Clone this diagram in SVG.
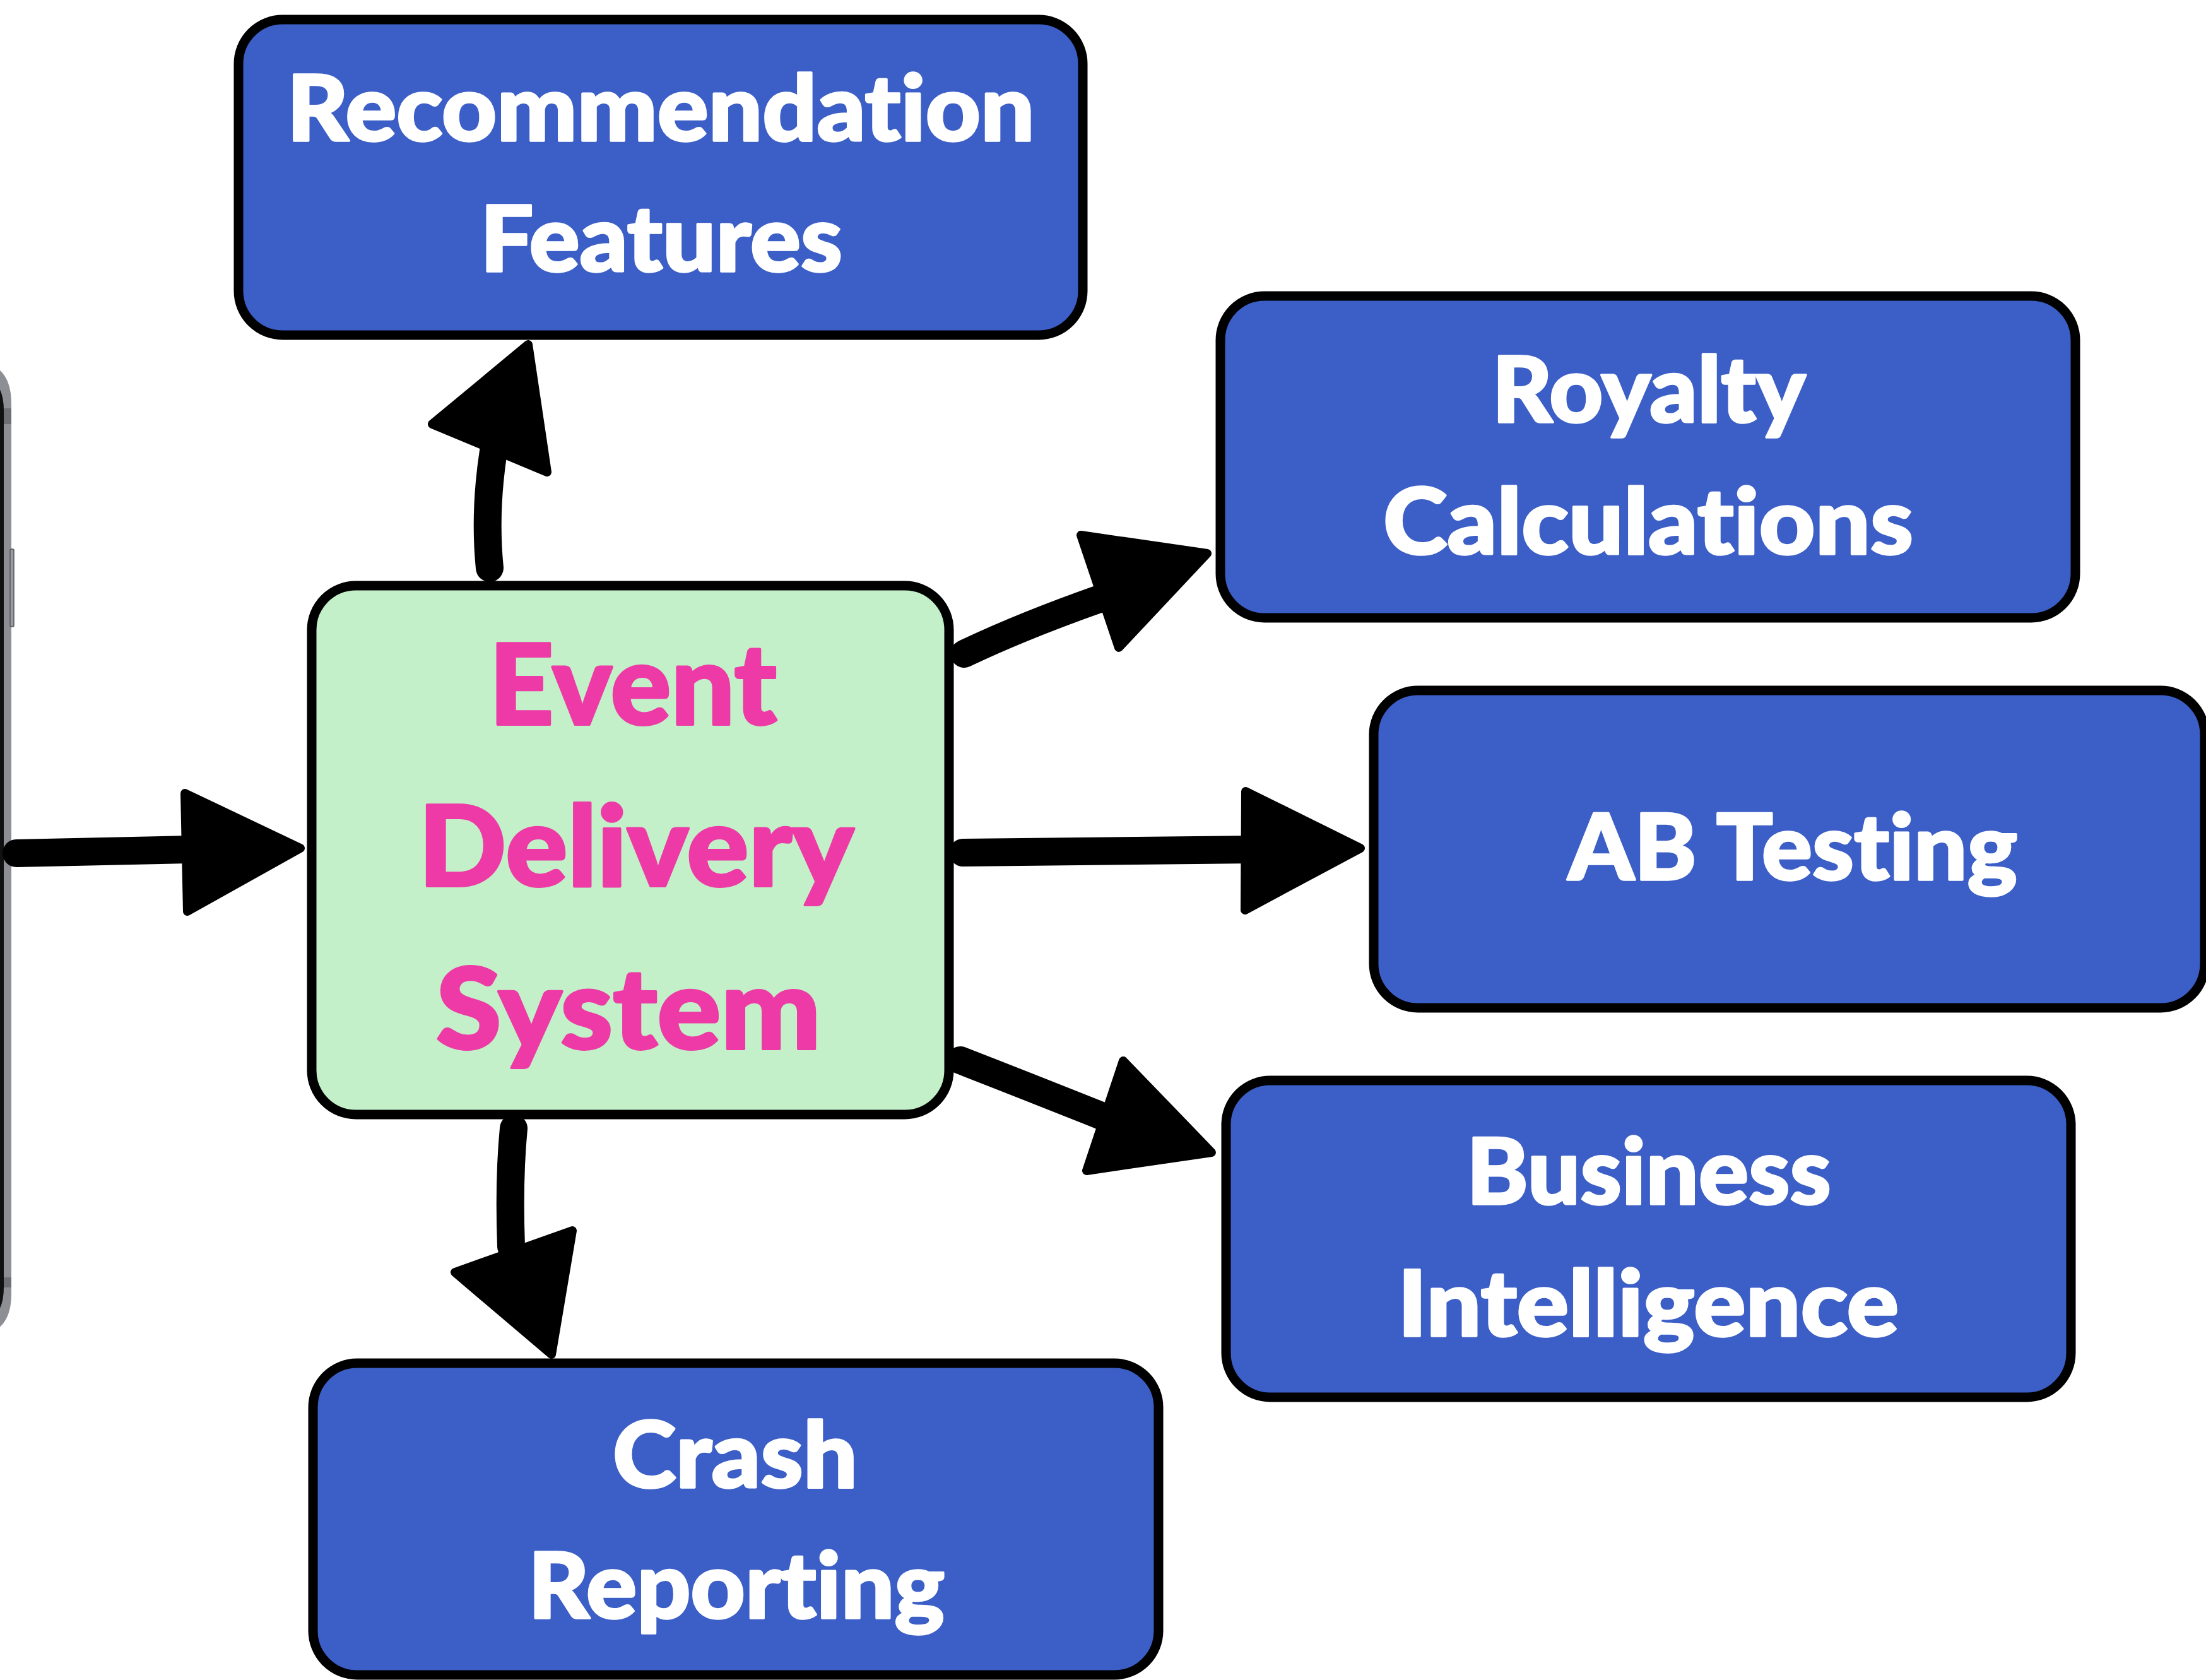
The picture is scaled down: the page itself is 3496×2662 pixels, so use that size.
<svg xmlns="http://www.w3.org/2000/svg" width="3496" height="2662" viewBox="0 0 3496 2662">
<defs>
<style>
.box{fill:#3b5ec7;stroke:#000;stroke-width:15;stroke-linejoin:round}
.core{fill:#c3f0c8;stroke:#000;stroke-width:15}
.lbl{font-family:Lato,"Liberation Sans",sans-serif;font-weight:900;font-size:145px;fill:#fff;stroke:#fff;stroke-width:3.5;stroke-linejoin:round;text-anchor:middle;font-variant-ligatures:none;font-feature-settings:"liga" 0}
.big{font-family:Lato,"Liberation Sans",sans-serif;font-weight:900;font-size:178px;fill:#ee3aa6;stroke:#ee3aa6;stroke-width:4;stroke-linejoin:round;text-anchor:middle;font-variant-ligatures:none;font-feature-settings:"liga" 0}
.shaft{fill:none;stroke:#000;stroke-width:44;stroke-linecap:round;stroke-linejoin:round}
.head{fill:#000;stroke:#000;stroke-width:14;stroke-linejoin:round}
</style>
</defs>
<rect width="3496" height="2662" fill="#fff"/>

<g id="phone">
<path d="M-200 573 L-42 573 Q18 573 18 640 L18 2050 Q18 2116 -42 2116 L-200 2116 Z" fill="#8e8f95"/>
<path d="M-200 590 L-50 590 Q6 590 6 650 L6 2040 Q6 2100 -50 2100 L-200 2100 Z" fill="#111"/>
<rect x="6" y="647" width="12" height="25" fill="#6d6e73"/>
<rect x="6" y="2024" width="12" height="16" fill="#6d6e73"/>
<rect x="16" y="870" width="6" height="123" rx="2" fill="#9a9ba1" stroke="#55565a" stroke-width="1.5"/>
</g>

<g id="connectors">
<path class="shaft" d="M26 1352 L300 1346"/>
<polygon class="head" points="293,1257 476,1344 297,1444"/>
<path class="shaft" d="M776 900 C770 840 772 780 782 715"/>
<polygon class="head" points="685,672 837,546 867,748"/>
<path class="shaft" d="M1528 1036 Q1620 992 1745 948"/>
<polygon class="head" points="1713,848 1913,877 1773,1026"/>
<path class="shaft" d="M1526 1351 L1990 1346"/>
<polygon class="head" points="1974,1254 2156,1344 1973,1442"/>
<path class="shaft" d="M1522 1680 Q1630 1722 1745 1768"/>
<polygon class="head" points="1780,1681 1920,1826 1722,1855"/>
<path class="shaft" d="M814 1788 C808 1850 808 1920 810 1975"/>
<polygon class="head" points="721,2016 907,1950 874,2146"/>
</g>

<g id="recommendation-features">
<rect class="box" x="378" y="31" width="1338" height="500" rx="70"/>
<text class="lbl" x="1047" y="223" textLength="1185" lengthAdjust="spacingAndGlyphs">Recommendation</text>
<text class="lbl" x="1048" y="430" textLength="574" lengthAdjust="spacingAndGlyphs">Features</text>
</g>

<g id="event-delivery-system">
<rect class="core" x="494" y="928" width="1010" height="838" rx="70"/>
<text class="big" x="1003" y="1148" textLength="456" lengthAdjust="spacingAndGlyphs">Event</text>
<text class="big" x="1008" y="1404" textLength="690" lengthAdjust="spacingAndGlyphs">Delivery</text>
<text class="big" x="996" y="1662" textLength="610" lengthAdjust="spacingAndGlyphs">System</text>
</g>

<g id="royalty-calculations">
<rect class="box" x="1934" y="469" width="1355" height="510" rx="70"/>
<text class="lbl" x="2613" y="669" textLength="497" lengthAdjust="spacingAndGlyphs">Royalty</text>
<text class="lbl" x="2612" y="878" textLength="840" lengthAdjust="spacingAndGlyphs">Calculations</text>
</g>

<g id="ab-testing">
<rect class="box" x="2177" y="1094" width="1317" height="503" rx="70"/>
<text class="lbl" x="2841" y="1394" textLength="712" lengthAdjust="spacingAndGlyphs">AB Testing</text>
</g>

<g id="business-intelligence">
<rect class="box" x="1943" y="1712" width="1339" height="502" rx="70"/>
<text class="lbl" x="2613" y="1908" textLength="578" lengthAdjust="spacingAndGlyphs">Business</text>
<text class="lbl" x="2612" y="2117" textLength="794" lengthAdjust="spacingAndGlyphs">Intelligence</text>
</g>

<g id="crash-reporting">
<rect class="box" x="496" y="2160" width="1340" height="494" rx="70"/>
<text class="lbl" x="1165" y="2357" textLength="388" lengthAdjust="spacingAndGlyphs">Crash</text>
<text class="lbl" x="1167" y="2564" textLength="660" lengthAdjust="spacingAndGlyphs">Reporting</text>
</g>
</svg>
